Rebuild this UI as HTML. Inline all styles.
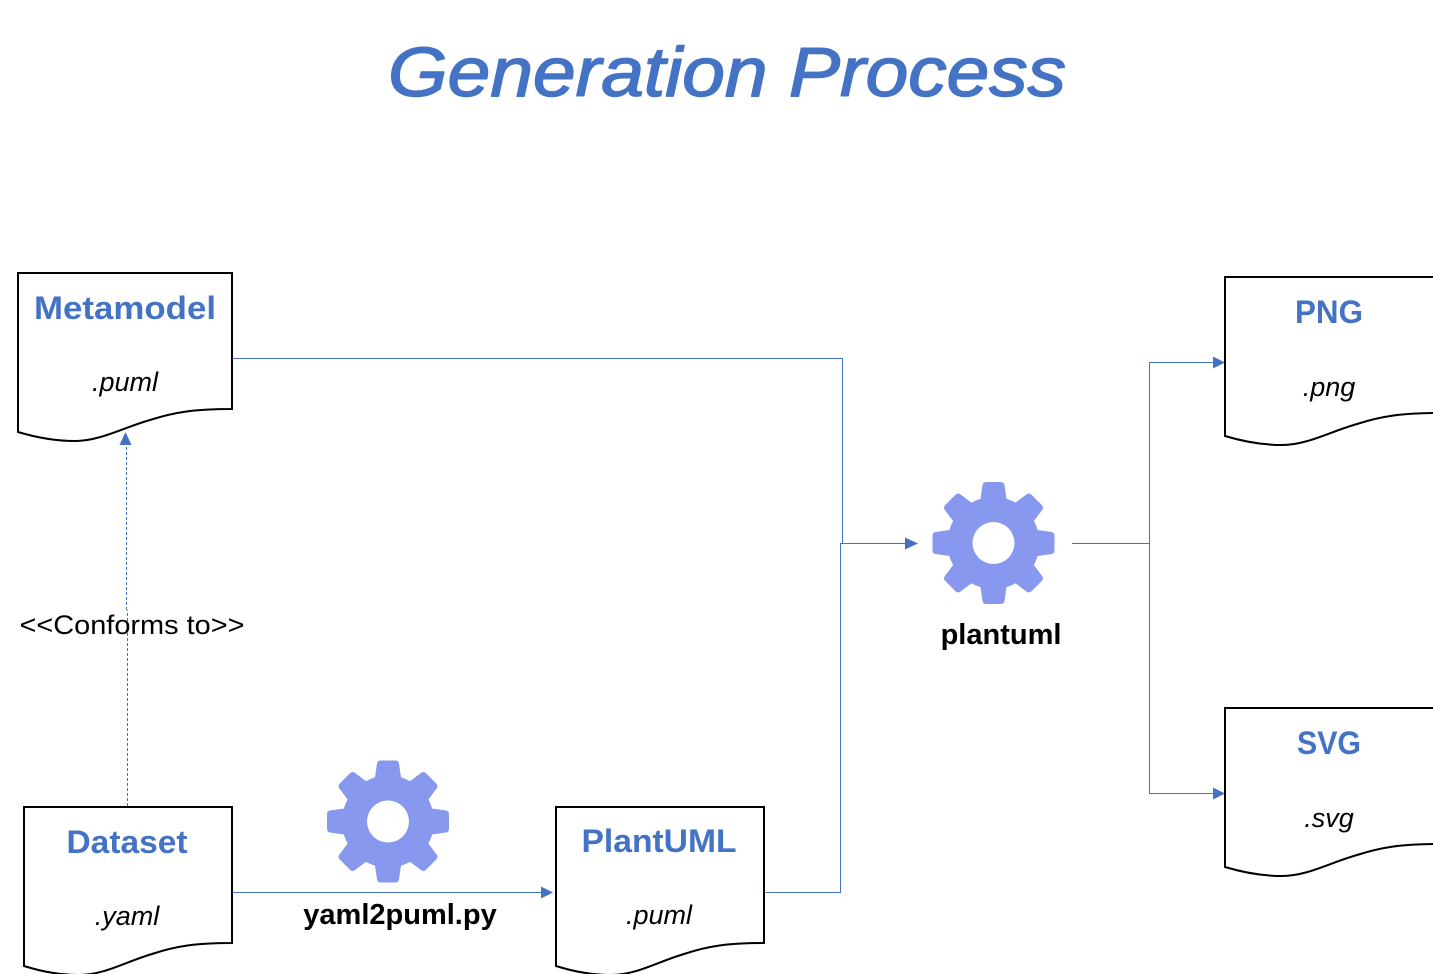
<!DOCTYPE html>
<html><head><meta charset="utf-8">
<style>html,body{margin:0;padding:0;background:#fff;width:1433px;height:974px;overflow:hidden}svg{display:block}
.h{font:bold 32px "Liberation Sans",sans-serif;fill:#4472c4;text-anchor:middle}
.e{font:italic 27px "Liberation Sans",sans-serif;fill:#000;text-anchor:middle}
.b{font:bold 29px "Liberation Sans",sans-serif;fill:#000;text-anchor:middle}
.d{fill:#fff;stroke:#000;stroke-width:2}
.l{fill:none;stroke:#4472c4;stroke-width:1}
.a{fill:#4472c4}
</style></head><body>
<svg width="1433" height="974" viewBox="0 0 1433 974" xmlns="http://www.w3.org/2000/svg">
<defs>
<g id="gear" fill="#8898ee">
<path id="t" d="M-13,-44 L-11,-58 Q-10.500,-61 -7,-61 L7,-61 Q10.500,-61 11,-58 L13,-44 Z"/>
<use href="#t" transform="rotate(45)"/><use href="#t" transform="rotate(90)"/><use href="#t" transform="rotate(135)"/>
<use href="#t" transform="rotate(180)"/><use href="#t" transform="rotate(225)"/><use href="#t" transform="rotate(270)"/><use href="#t" transform="rotate(315)"/>
<circle r="46"/>
<circle r="21" fill="#fff"/>
</g>
<path id="doc" d="M0,0 H214 V136 C177,136 157,139 132,147 C104,155 82,168 57,168 C40,168 20,165 0,159 Z"/>
<path id="doc2" d="M0,0 H208 V136 C172,136 152,139 128,147 C101,155 80,168 55,168 C39,168 19,165 0,159 Z"/>
</defs>

<text x="727" y="96" text-anchor="middle" font-family="Liberation Sans,sans-serif" font-style="italic" font-size="70" fill="#4472c4" stroke="#4472c4" stroke-width="1.500" stroke-linejoin="round" textLength="678" lengthAdjust="spacingAndGlyphs">Generation Process</text>

<path class="l" d="M232,358.500 H842.500 V543.500 H908"/>
<path class="a" d="M905,537.500 L918,543.500 L905,549.500 Z"/>
<path class="l" d="M764,892.500 H840.500 V543.500 H845"/>
<path class="l" d="M232,892.500 H543"/>
<path class="a" d="M541,886.500 L553,892.500 L541,898.500 Z"/>
<path class="l" d="M1072,543.500 H1149.500 M1215,362.500 H1149.500 V793.500 H1215"/>
<path class="a" d="M1213,356.500 L1225,362.500 L1213,368.500 Z M1213,787.500 L1225,793.500 L1213,799.500 Z"/>
<path class="l" stroke-dasharray="3 2" d="M127.500,806 V610 M126.500,610 V444"/>

<use href="#doc" class="d" x="18" y="273"/>
<use href="#doc2" class="d" x="24" y="807"/>
<use href="#doc2" class="d" x="556" y="807"/>
<use href="#doc" class="d" x="1225" y="277"/>
<use href="#doc" class="d" x="1225" y="708"/>
<path class="a" d="M125.500,432 L131.500,445 L119.500,445 Z"/>

<use href="#gear" x="993.500" y="543"/>
<use href="#gear" x="388" y="821.500"/>

<text class="h" x="125" y="319" textLength="182" lengthAdjust="spacingAndGlyphs">Metamodel</text>
<text class="e" x="125" y="391">.puml</text>
<text class="h" x="127" y="853" textLength="121" lengthAdjust="spacingAndGlyphs">Dataset</text>
<text class="e" x="127" y="925">.yaml</text>
<text class="h" x="659" y="852" textLength="155" lengthAdjust="spacingAndGlyphs">PlantUML</text>
<text class="e" x="659" y="924">.puml</text>
<text class="h" x="1329" y="323" textLength="68" lengthAdjust="spacingAndGlyphs">PNG</text>
<text class="e" x="1329" y="396">.png</text>
<text class="h" x="1329" y="754" textLength="64" lengthAdjust="spacingAndGlyphs">SVG</text>
<text class="e" x="1329" y="827">.svg</text>

<text x="132" y="634" text-anchor="middle" font-family="Liberation Sans,sans-serif" font-size="27" fill="#000" textLength="225" lengthAdjust="spacingAndGlyphs">&lt;&lt;Conforms to&gt;&gt;</text>
<text class="b" x="1001" y="644">plantuml</text>
<text class="b" x="400" y="924">yaml2puml.py</text>
</svg>
</body></html>
